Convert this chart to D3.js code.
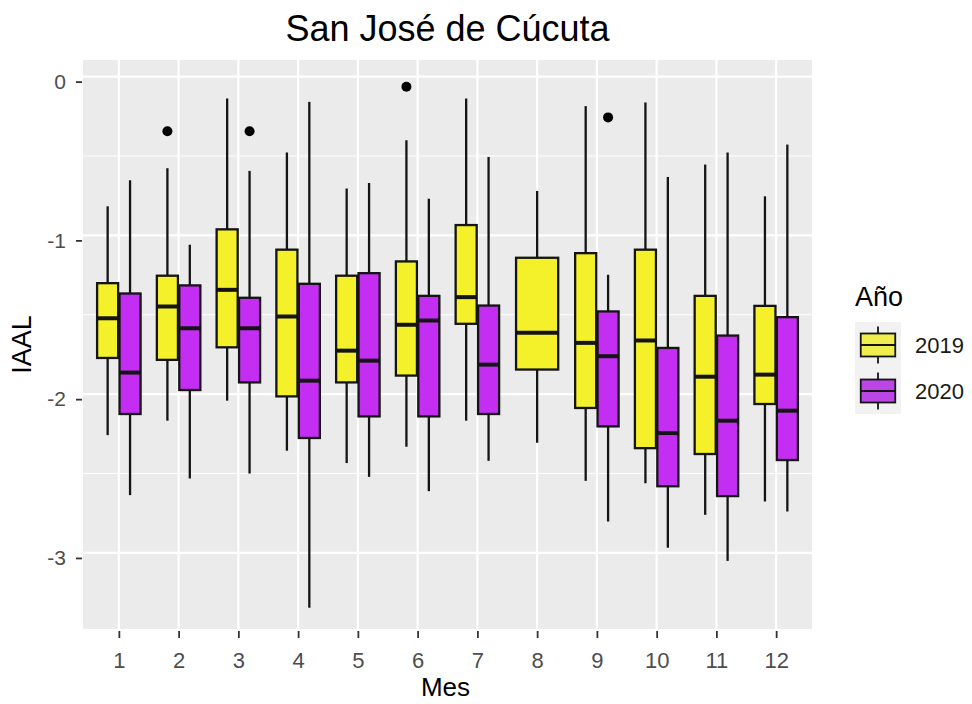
<!DOCTYPE html>
<html>
<head>
<meta charset="utf-8">
<script src="https://cdn.jsdelivr.net/npm/d3@7"></script>
<style>
  html, body { margin: 0; padding: 0; background: #ffffff; }
  svg { display: block; font-family: "Liberation Sans", Arial, sans-serif; }
</style>
</head>
<body>
<svg id="chart" width="972" height="704"></svg>
<script>
// Monthly IAAL box plots, 2019 vs 2020
const months = [1, 2, 3, 4, 5, 6, 7, 8, 9, 10, 11, 12];
const years = ["2019", "2020"];
const yTicks = [0, -1, -2, -3];
const yMinor = [-0.5, -1.5, -2.5];

// 2019 five-number summaries per month
const low2019 = [-2.258, -2.167, -2.041, -2.356, -2.434, -2.331, -2.167, -2.306, -2.546, -2.561, -2.760, -2.676];
const q1_2019 = [-1.772, -1.784, -1.705, -2.014, -1.926, -1.883, -1.557, -1.845, -2.087, -2.340, -2.377, -2.062];
const med2019 = [-1.522, -1.448, -1.343, -1.511, -1.726, -1.563, -1.389, -1.614, -1.677, -1.662, -1.890, -1.877];
const q3_2019 = [-1.301, -1.254, -0.962, -1.090, -1.254, -1.164, -0.935, -1.141, -1.112, -1.090, -1.381, -1.444];
const up2019 = [-0.817, -0.577, -0.138, -0.478, -0.705, -0.401, -0.138, -0.720, -0.186, -0.163, -0.554, -0.754];

// 2020 five-number summaries per month (no data for August)
const low2020 = [-2.636, -2.531, -2.500, -3.345, -2.521, -2.611, -2.420, null, -2.802, -2.967, -3.050, -2.739];
const q1_2020 = [-2.125, -1.974, -1.926, -2.276, -2.140, -2.140, -2.125, null, -2.203, -2.580, -2.642, -2.415];
const med2020 = [-1.864, -1.585, -1.585, -1.915, -1.789, -1.536, -1.814, null, -1.761, -2.245, -2.167, -2.104];
const q3_2020 = [-1.366, -1.315, -1.393, -1.305, -1.238, -1.381, -1.442, null, -1.479, -1.709, -1.631, -1.515];
const up2020 = [-0.653, -1.059, -0.594, -0.159, -0.670, -0.769, -0.506, null, -1.248, -0.632, -0.478, -0.428];

// Outlying points
const outMonth = [2, 3, 6, 9];
const outYear = ["2019", "2020", "2019", "2020"];
const outValue = [-0.344, -0.344, -0.064, -0.257];

const fills = { "2019": "#f4f12a", "2020": "#c32ef2" };
const keyFills = { "2019": "#f0ee4e", "2020": "#bc45e6" };

// Build box records
const stats = { "2019": [low2019, q1_2019, med2019, q3_2019, up2019],
                "2020": [low2020, q1_2020, med2020, q3_2020, up2020] };
const boxes = [];
months.forEach((m, i) => {
  const present = years.filter(yr => stats[yr][2][i] !== null);
  present.forEach((yr, j) => {
    const s = stats[yr];
    boxes.push({ month: m, year: yr, slot: j, n: present.length,
      low: s[0][i], q1: s[1][i], med: s[2][i], q3: s[3][i], up: s[4][i] });
  });
});

const panel = { left: 83, right: 812, top: 60, bottom: 629 };
const x = d3.scaleLinear().domain([0.4, 12.6]).range([panel.left, panel.right]);
const y = d3.scaleLinear().domain([-3.479, 0.1045]).range([panel.bottom, panel.top]);
const groupWidth = 0.75;

function boxCenter(b) {
  const w = groupWidth / b.n;
  return b.month - groupWidth / 2 + w * (b.slot + 0.5);
}
function boxHalf(b) { return (groupWidth / b.n) / 2 * 0.94; }

const svg = d3.select("#chart");

// Panel background and grid
svg.append("rect")
  .attr("x", panel.left).attr("y", panel.top)
  .attr("width", panel.right - panel.left).attr("height", panel.bottom - panel.top)
  .attr("fill", "#ebebeb");

const grid = svg.append("g");
grid.selectAll("line.minor").data(yMinor).enter().append("line")
  .attr("x1", panel.left).attr("x2", panel.right)
  .attr("y1", d => y(d)).attr("y2", d => y(d))
  .attr("stroke", "#ffffff").attr("stroke-width", 1);
grid.selectAll("line.majory").data(yTicks).enter().append("line")
  .attr("x1", panel.left).attr("x2", panel.right)
  .attr("y1", d => y(d)).attr("y2", d => y(d))
  .attr("stroke", "#ffffff").attr("stroke-width", 2.2);
grid.selectAll("line.majorx").data(months).enter().append("line")
  .attr("y1", panel.top).attr("y2", panel.bottom)
  .attr("x1", d => x(d)).attr("x2", d => x(d))
  .attr("stroke", "#ffffff").attr("stroke-width", 2.2);

// Boxes
const ink = "#141414";
const g = svg.append("g");
const bx = g.selectAll("g.box").data(boxes).enter().append("g");
bx.append("line")
  .attr("x1", d => x(boxCenter(d))).attr("x2", d => x(boxCenter(d)))
  .attr("y1", d => y(d.up)).attr("y2", d => y(d.q3))
  .attr("stroke", ink).attr("stroke-width", 2.3);
bx.append("line")
  .attr("x1", d => x(boxCenter(d))).attr("x2", d => x(boxCenter(d)))
  .attr("y1", d => y(d.q1)).attr("y2", d => y(d.low))
  .attr("stroke", ink).attr("stroke-width", 2.3);
bx.append("rect")
  .attr("x", d => x(boxCenter(d) - boxHalf(d)))
  .attr("width", d => x(boxCenter(d) + boxHalf(d)) - x(boxCenter(d) - boxHalf(d)))
  .attr("y", d => y(d.q3))
  .attr("height", d => y(d.q1) - y(d.q3))
  .attr("fill", d => fills[d.year])
  .attr("stroke", ink).attr("stroke-width", 2.3);
bx.append("line")
  .attr("x1", d => x(boxCenter(d) - boxHalf(d))).attr("x2", d => x(boxCenter(d) + boxHalf(d)))
  .attr("y1", d => y(d.med)).attr("y2", d => y(d.med))
  .attr("stroke", ink).attr("stroke-width", 4);

// Outliers
const outliers = outMonth.map((m, i) => {
  const i0 = months.indexOf(m);
  const present = years.filter(yr => stats[yr][2][i0] !== null);
  return { month: m, year: outYear[i], value: outValue[i],
           slot: present.indexOf(outYear[i]), n: present.length };
});
g.selectAll("circle").data(outliers).enter().append("circle")
  .attr("cx", d => x(boxCenter(d))).attr("cy", d => y(d.value))
  .attr("r", 5).attr("fill", "#000000");

// Axes
const xAxis = svg.append("g")
  .attr("transform", `translate(0,${panel.bottom})`)
  .call(d3.axisBottom(x).tickValues(months).tickSize(5).tickPadding(3));
xAxis.select(".domain").remove();
xAxis.selectAll(".tick line").attr("stroke", "#333333").attr("stroke-width", 1.8).attr("y1", 2).attr("y2", 9);
xAxis.selectAll(".tick text")
  .attr("y", 39).attr("dy", null)
  .attr("fill", "#4d4d4d").style("font-size", "22px")
  .style("font-family", "'Liberation Sans', Arial, sans-serif");

const yAxis = svg.append("g")
  .attr("transform", `translate(${panel.left},0)`)
  .call(d3.axisLeft(y).tickValues(yTicks).tickSize(5).tickPadding(4).tickFormat(d => String(d)));
yAxis.select(".domain").remove();
yAxis.selectAll(".tick line").attr("stroke", "#333333").attr("stroke-width", 1.8)
  .attr("x1", -1).attr("x2", -7).attr("transform", "translate(0,5)");
yAxis.selectAll(".tick text")
  .attr("x", -17).attr("dy", "0.32em").attr("y", 5)
  .attr("fill", "#4d4d4d").style("font-size", "21px")
  .style("font-family", "'Liberation Sans', Arial, sans-serif");

// Titles
svg.append("text")
  .attr("x", (panel.left + panel.right) / 2).attr("y", 41)
  .attr("text-anchor", "middle").attr("fill", "#000000")
  .style("font-size", "36px")
  .text("San José de Cúcuta");
svg.append("text")
  .attr("x", (panel.left + panel.right) / 2 - 2).attr("y", 696)
  .attr("text-anchor", "middle").attr("fill", "#000000")
  .style("font-size", "26px")
  .text("Mes");
svg.append("text")
  .attr("transform", `translate(31,${(panel.top + panel.bottom) / 2}) rotate(-90)`)
  .attr("text-anchor", "middle").attr("fill", "#000000")
  .style("font-size", "27px")
  .text("IAAL");

// Legend
const legend = svg.append("g");
legend.append("text")
  .attr("x", 855).attr("y", 306).attr("fill", "#000000")
  .style("font-size", "27px").text("Año");
const keySize = 46;
const keyTop = 322;
const keyLeft = 855;
const keys = legend.selectAll("g.key").data(years).enter().append("g")
  .attr("transform", (d, i) => `translate(${keyLeft},${keyTop + i * keySize})`);
keys.append("rect").attr("width", keySize).attr("height", keySize).attr("fill", "#f2f2f2");
keys.append("line")
  .attr("x1", keySize / 2).attr("x2", keySize / 2)
  .attr("y1", keySize * 0.1).attr("y2", keySize * 0.9)
  .attr("stroke", ink).attr("stroke-width", 1.8);
keys.append("rect")
  .attr("x", keySize * 0.125).attr("width", keySize * 0.75)
  .attr("y", keySize * 0.25).attr("height", keySize * 0.5)
  .attr("fill", d => keyFills[d]).attr("stroke", ink).attr("stroke-width", 1.8);
keys.append("line")
  .attr("x1", keySize * 0.125).attr("x2", keySize * 0.875)
  .attr("y1", keySize / 2).attr("y2", keySize / 2)
  .attr("stroke", ink).attr("stroke-width", 1.8);
keys.append("text")
  .attr("x", keySize + 14).attr("y", keySize / 2).attr("dy", "0.35em")
  .attr("fill", "#1a1a1a").style("font-size", "22px")
  .text(d => d);
</script>
</body>
</html>
